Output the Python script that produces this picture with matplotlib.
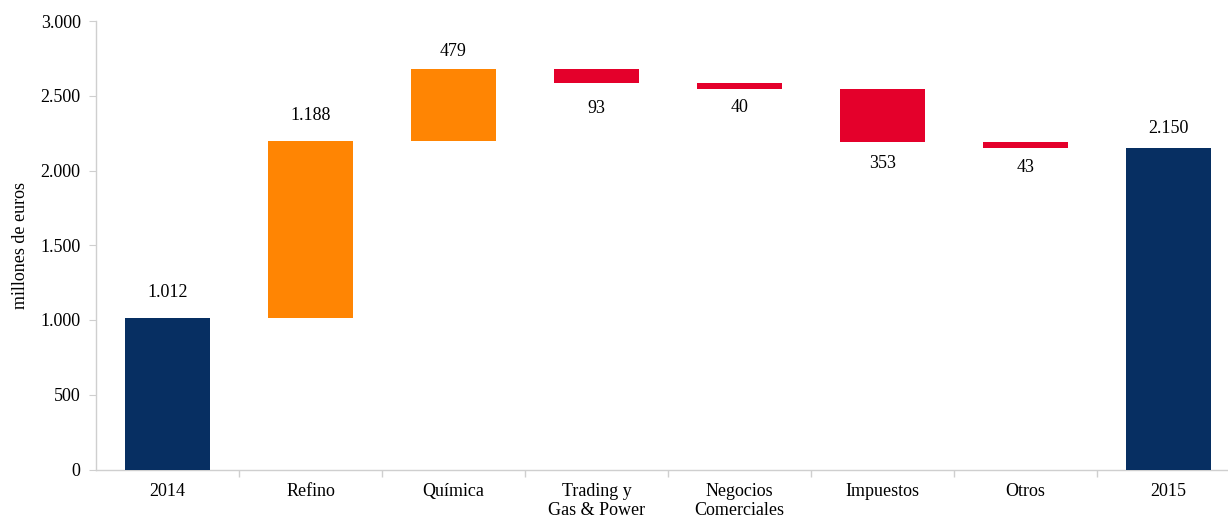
import numpy as np
import matplotlib
matplotlib.use('Agg')
import matplotlib.pyplot as plt
from matplotlib.ticker import FixedLocator, FuncFormatter

# Datos del puente 2014 -> 2015 (millones de euros)
categorias = ['2014', 'Refino', 'Química', 'Trading y\nGas & Power',
              'Negocios\nComerciales', 'Impuestos', 'Otros', '2015']
inicio = 1012
variaciones = [1188, 479, -93, -40, -353, -43]
final = 2150

plt.rcParams['font.family'] = ['Liberation Serif', 'DejaVu Serif']

AZUL = '#072F62'
NARANJA = '#FF8503'
ROJO = '#E4002B'
GRIS = '#CFCFCF'

# distancia (px) entre el borde de la barra y el centro de la etiqueta
sep_px = [26, 25, 17, 26, 19, 22, 19, 20]

# Calcula bases y alturas de las barras
bases, alturas, colores = [0], [inicio], [AZUL]
acum = inicio
for v in variaciones:
    if v >= 0:
        bases.append(acum)
        colores.append(NARANJA)
    else:
        bases.append(acum + v)
        colores.append(ROJO)
    alturas.append(abs(v))
    acum += v
bases.append(0)
alturas.append(final)
colores.append(AZUL)

fig = plt.figure(figsize=(12.28, 5.18), dpi=100)
ax = fig.add_axes([96 / 1228, 48.5 / 518, 1144 / 1228, 448.5 / 518])

x = np.arange(len(categorias))
ax.bar(x, alturas, bottom=bases, width=0.59, color=colores, zorder=3)

# Etiquetas de valor
etiquetas = [inicio] + variaciones + [final]
for i, v in enumerate(etiquetas):
    txt = f'{abs(v):,}'.replace(',', '.')
    off = sep_px[i] * 0.72
    if v >= 0:
        y = bases[i] + alturas[i]
    else:
        y, off = bases[i], -off
    ax.annotate(txt, (x[i], y), xytext=(0, off), textcoords='offset points',
                ha='center', va='center', fontsize=13)

ax.set_xlim(-0.5, len(categorias) - 0.5)
ax.set_ylim(0, 3000)
ax.set_yticks(np.arange(0, 3001, 500))
ax.yaxis.set_major_formatter(FuncFormatter(lambda v, p: f'{v:,.0f}'.replace(',', '.')))
ax.set_xticks(x)
ax.set_xticklabels(categorias, fontsize=13, linespacing=1.12)
ax.xaxis.set_minor_locator(FixedLocator(np.arange(0.5, len(categorias) - 0.5, 1)))
ax.tick_params(axis='x', which='major', length=0, pad=10)
ax.tick_params(axis='x', which='minor', length=5, color=GRIS, width=1)
ax.tick_params(axis='y', length=5, color=GRIS, labelsize=13, pad=6)

for s in ['top', 'right']:
    ax.spines[s].set_visible(False)
for s in ['left', 'bottom']:
    ax.spines[s].set_color(GRIS)
    ax.spines[s].set_linewidth(1)

ax.set_ylabel('millones de euros', fontsize=13)
ax.yaxis.set_label_coords(-0.059, 0.5)

plt.savefig('out.png', dpi=100)
plt.close()
